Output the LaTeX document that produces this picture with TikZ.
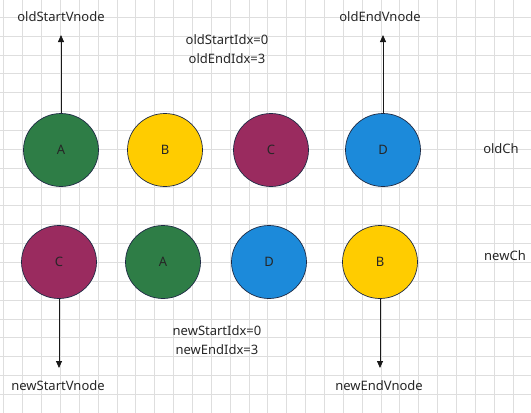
\documentclass[tikz,border=0pt]{standalone}
\usepackage{fontspec}
\setmainfont{Noto Sans}
\usetikzlibrary{arrows.meta,shapes.geometric}

\definecolor{vgreen}{HTML}{2E7D46}
\definecolor{vyellow}{HTML}{FFCC00}
\definecolor{vpurple}{HTML}{9A2B5F}
\definecolor{vblue}{HTML}{1C8ADA}
\definecolor{vline}{HTML}{1E2A44}
\definecolor{gridgray}{HTML}{DEDEDE}

\begin{document}
\begin{tikzpicture}[x=1pt,y=-1pt,every node/.style={font=\fontsize{13}{19}\selectfont,text=black!85}]
  \tikzset{
    vnode/.style={ellipse,draw=vline,line width=0.7pt,minimum width=75pt,minimum height=73pt,inner sep=0pt},
    ptr/.style={-{Triangle[length=7pt,width=6pt]},line width=0.8pt,black!90}
  }
  \useasboundingbox (0,0) rectangle (531,413);

  % Background grid
  \foreach \i in {0,...,28}
    \draw[gridgray,line width=0.8pt] (3.8+18.86*\i,0) -- (3.8+18.86*\i,413);
  \foreach \j in {0,...,22}
    \draw[gridgray,line width=0.8pt] (0,-1.6+18.86*\j) -- (531,-1.6+18.86*\j);

  % Old children
  \node[vnode,fill=vgreen] (oldA) at (61,150) {A};
  \node[vnode,fill=vyellow] (oldB) at (165,150) {B};
  \node[vnode,fill=vpurple] (oldC) at (271,150) {C};
  \node[vnode,fill=vblue] (oldD) at (383,150) {D};
  \node (oldch) at (501,149) {oldCh};

  % New children
  \node[vnode,fill=vpurple] (newC) at (59,262) {C};
  \node[vnode,fill=vgreen] (newA) at (163,262) {A};
  \node[vnode,fill=vblue] (newD) at (269,262) {D};
  \node[vnode,fill=vyellow] (newB) at (380,262) {B};
  \node (newch) at (505,256) {newCh};

  % Pointer labels
  \node (oldstart) at (61,17) {oldStartVnode};
  \node (oldend) at (380,17) {oldEndVnode};
  \node (newstart) at (58,386) {newStartVnode};
  \node (newend) at (379,386) {newEndVnode};
  \coordinate (oldstarttip) at (61,35);
  \coordinate (oldendtip) at (383,35);
  \coordinate (newstarttip) at (59,368);
  \coordinate (newendtip) at (380,368);

  % Index labels
  \node[align=center] (oldidx) at (227,49.5) {oldStartIdx=0\\oldEndIdx=3};
  \node[align=center] (newidx) at (217,340.5) {newStartIdx=0\\newEndIdx=3};

  % Pointer arrows
  \draw[ptr] (oldA.north) -- (oldstarttip);
  \draw[ptr] (oldD.north) -- (oldendtip);
  \draw[ptr] (newC.south) -- (newstarttip);
  \draw[ptr] (newB.south) -- (newendtip);
\end{tikzpicture}
\end{document}
